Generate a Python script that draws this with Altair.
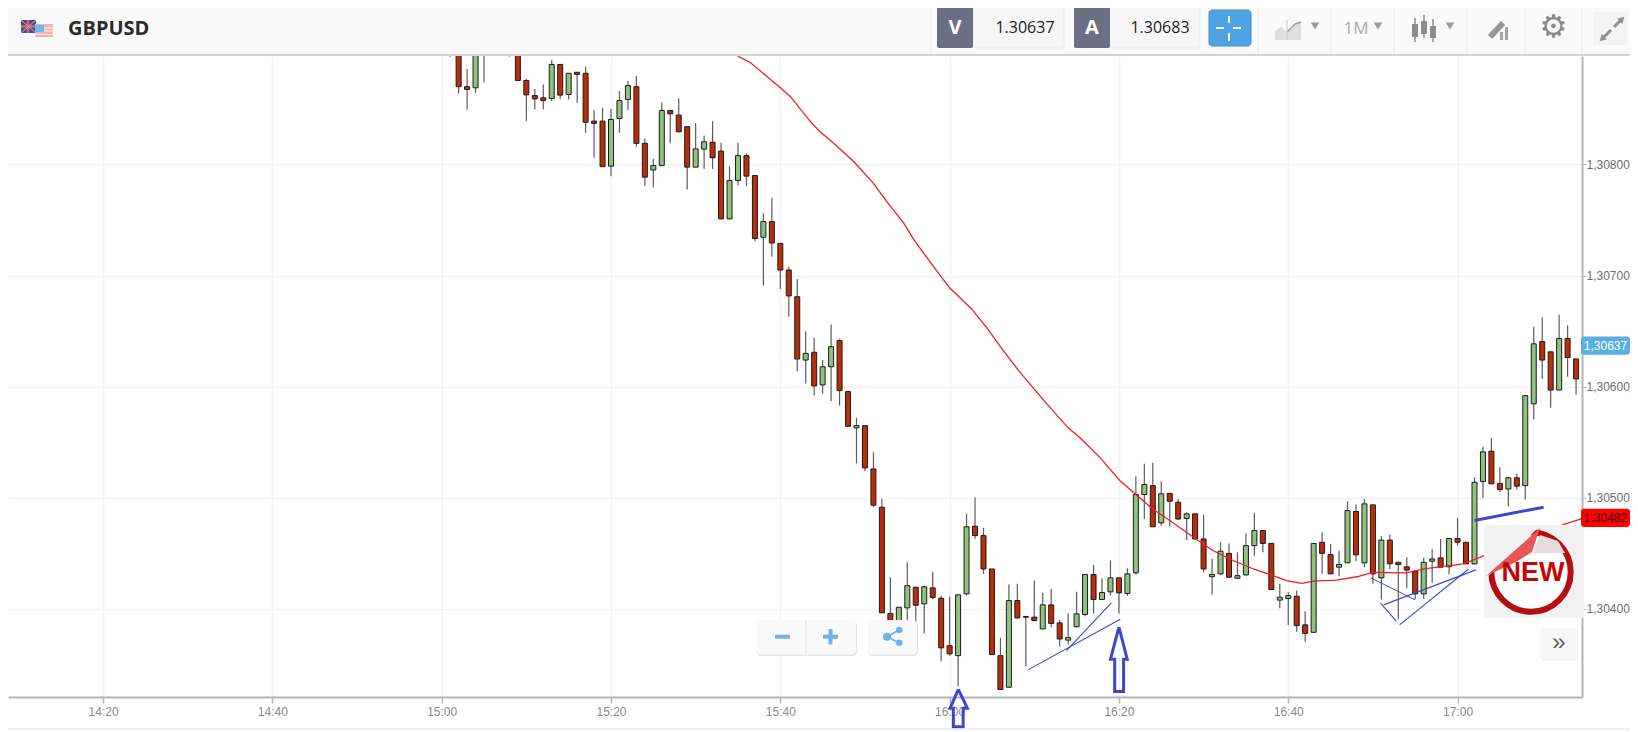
import json
import altair as alt
import pandas as pd

# ---- chart values, in points of 0.00001 ----
MINUTE = [1,2,3,4,5,8,9,10,11,12,13,14,15,16,17,18,19,20,21,22,23,24,25,26,27,28,29,30,31,32,33,34,35,36,37,38,39,40,41,42,43,44,45,46,47,48,49,50,51,52,53,54,55,56,57,58,59,60,61,62,63,64,65,66,67,68,69,70,71,72,73,74,75,76,77,78,79,80,81,82,83,84,85,86,87,88,89,90,91,92,93,94,95,96,97,98,99,100,101,102,103,104,105,106,107,108,109,110,111,112,113,114,115,116,117,118,119,120,121,122,123,124,125,126,127,128,129,130,131,132,133,134]
OPEN = [130912,130915,130870,130869,130900,130910,130908,130875.6,130862,130860,130859.4,130890,130863,130883,130882,130839,130839,130798.5,130841.4,130858.5,130870,130819,130795,130799,130848.6,130844.4,130834,130797.6,130813.8,130820,130812,130751,130785.6,130808,130790,130734.5,130748.6,130729,130705,130681,130624,130631,130601.6,130618,130641.5,130595.6,130563,130565,130526,130491.6,130396,130387,130401,130419.6,130404.6,130419,130409.7,130367,130358,130413.6,130474.5,130466,130436,130358,130329.6,130407.6,130393.2,130392.6,130382,130403.7,130387.5,130372,130384,130395,130431,130408.5,130415.4,130428,130414,130432.5,130503,130511,130477.5,130504,130496,130481.4,130485.6,130463,130429,130431.6,130450,130427.7,130430.7,130457,130470.6,130459,130408,130409.4,130411.5,130385.7,130379,130460,130449,130437.6,130441.5,130487.7,130441.5,130493.7,130428,130462,130442,130438,130434,130413.6,130443,130446,130438,130463.4,130460,130440.6,130514.7,130542,130513,130508,130518,130511,130584.6,130640.7,130631.4,130597,130643.4,130625]
HIGH = [130915,130920,130886,130912,130910,130913,130910,130877,130868,130872,130894,130890,130882,130883,130888,130849,130851,130850,130866,130875,130879.5,130823.4,130805,130856,130848.6,130859.4,130834,130837,130826,130839,130819.5,130798.5,130819.5,130810,130790,130756,130770,130729,130708,130697,130650,130644,130624,130656,130643,130595.6,130572,130565,130541,130499,130428.6,130401.6,130442,130420,130421,130433.4,130412,130411,130413,130485.6,130500.6,130473,130436,130374,130422,130422.6,130394,130425.6,130414.5,130418,130390,130396,130415.4,130431,130439.7,130427.4,130443.6,130428,130436.7,130519.5,130530.6,130531.5,130514.7,130504,130499,130487,130485.6,130485,130445,130460,130459,130451,130468,130486.5,130470.6,130459,130422.6,130415,130416.6,130398,130459,130469,130458.6,130452.6,130497,130494,130499,130493.7,130465.5,130467,130442,130446.6,130434,130446,130454,130463,130463.4,130482,130460,130518.6,130546,130554,130527.6,130519,130521.6,130592,130654,130662.6,130631.4,130664.7,130655.4,130625]
LOW = [130897,130864,130849.5,130864.5,130874,130897,130875.6,130839,130849.5,130849.5,130857,130859,130858.5,130855.5,130828.5,130806,130798,130789.5,130828.5,130849,130816,130780.5,130779.6,130799,130819,130829,130777.5,130797.6,130796,130796,130751,130751,130781,130780.5,130731,130691,130717,130688,130663,130614,130603,130592,130594,130587,130583,130564.4,130531,130524,130491.6,130396.5,130387,130378,130387.5,130378,130378,130409,130353,130358,130330.5,130412,130463,130431.6,130359,130327.5,130329.6,130391,130348.5,130389,130382,130383.6,130366,130368,130384,130393.5,130396,130408,130412,130396,130412,130431,130481,130474,130475,130474,130480,130462,130462,130433,130413,130431,130428,130427,130430,130448,130451,130417.5,130400.6,130385.6,130379.6,130370.6,130379,130431.6,130431.6,130429.5,130441.5,130443,130437.6,130422.6,130408.5,130436,130390.5,130418.7,130409,130409,130423.5,130437.6,130431,130457,130440.6,130440.6,130499.7,130512.6,130505,130492.5,130507.5,130498.5,130570.5,130607,130581,130597,130609,130593]
CLOSE = [130905,130870,130867.5,130908,130905,130904,130875.6,130862.7,130859,130857.6,130890,130862.4,130882,130881,130838,130837,130798,130840.5,130857.6,130871,130819,130788.6,130799,130848.6,130845.6,130829.4,130797.6,130814,130820.4,130806,130751,130785.6,130808,130789.5,130733.4,130748.6,130729.4,130705,130681.7,130625,130630,130600.7,130618,130636,130596.5,130564.4,130565,130527,130493.4,130396.5,130387,130401.6,130421,130403.4,130420,130410.3,130365,130359.6,130412.7,130474,130466,130436,130359,130327.5,130407.6,130392,130392.6,130389.6,130403.7,130387,130373,130374.3,130395.6,130431,130408.5,130414.8,130428,130414.5,130431.6,130503,130512,130474,130503.6,130497,130481,130485.6,130463,130436,130431,130452,130428.6,130430,130457,130470.6,130459,130417.5,130410.6,130412,130385,130378,130459,130450,130431.6,130440,130488.6,130448.7,130494.6,130431.6,130462,130440.6,130440,130435,130413.6,130442,130445,130437.6,130463.4,130460,130440.6,130514,130541.4,130512.6,130507.5,130518,130510.5,130592,130638.6,130624,130597,130643.4,130626.3,130607]

MA_MINUTE = [35,36.5,40,41.2,43.5,44.7,46.3,48.7,51,52.6,54.6,55.8,58.1,60,62.6,64.4,66.3,68.1,71.2,74,75.4,77.8,80.1,81.9,84,86,88.8,91.1,93.5,95.9,98.2,99.8,101.6,103,105.7,108.1,110,114,116,120.7,123,126,130,132.5,134.6]
MA_PRICE = [130897.5,130891.5,130869,130861,130839,130829.4,130819,130802.4,130783,130766.4,130747,130732,130708,130689,130670,130653,130633,130615,130587,130563,130554,130536,130515.6,130503.6,130490,130479.6,130464.6,130452.6,130443.6,130436,130430,130425.6,130423,130425,130426,130429,130433,130432.5,130436,130440.6,130447.5,130455,130468,130476,130481]

TREND_LINES = [
    ([69.25, 80.16], [130345.2, 130390.8]),
    ([73.8, 79.1], [130362.6, 130405.5]),
    ([109.76, 115], [130428, 130408.2]),
    ([110.9, 112.76], [130405.2, 130389]),
    ([113.15, 121.3], [130385.7, 130436]),
    ([111.26, 122.17], [130403.7, 130435.2]),
]
THICK_LINE = ([122, 130.16], [130479.6, 130491.6])
ARROW_1 = ([61.03, 62.1, 61.6, 61.6, 60.44, 60.44, 60.05, 61.03],
           [130327.7, 130310.6, 130310.6, 130294, 130294, 130310.6, 130310.6, 130327.7])
ARROW_2 = ([80, 80.98, 80.55, 80.55, 79.5, 79.5, 79, 80],
           [130383.6, 130354.8, 130354.8, 130325.7, 130325.7, 130354.8, 130354.8, 130383.6])

X_TICKS = [-40, -20, 0, 20, 40, 60, 80, 100, 120]
X_LABELS = ["14:20", "14:40", "15:00", "15:20", "15:40", "16:00", "16:20", "16:40", "17:00"]
Y_TICKS = [130400, 130500, 130600, 130700, 130800]
BID, ASK, MA_LAST = "1.30637", "1.30683", 130482
BID_POINTS = 130637

SYMBOL = "GBPUSD"
PLOT_L, PLOT_T, PLOT_R, PLOT_B = 8, 56, 1582, 697
X_DOMAIN = [-51.23, 134.7]
Y_DOMAIN = [130320.8, 130897.6]

RED, GREEN = "#bb2c08", "#8fc37c"
BLUE = "#3d47c9"
one = pd.DataFrame({"a": [0]})
X = lambda p: p - PLOT_L
Y = lambda p: p - PLOT_T


def box(x0, y0, x1, y1, fill, radius=0, stroke=None, opacity=1.0):
    kw = dict(fill=fill, opacity=opacity, cornerRadius=radius)
    if stroke:
        kw.update(stroke=stroke, strokeWidth=1)
    return alt.Chart(one).mark_rect(**kw).encode(
        x=alt.value(X(x0)), x2=alt.value(X(x1)), y=alt.value(Y(y0)), y2=alt.value(Y(y1)))


def seg(x0, y0, x1, y1, color, w=1.0):
    return alt.Chart(one).mark_rule(color=color, strokeWidth=w).encode(
        x=alt.value(X(x0)), x2=alt.value(X(x1)), y=alt.value(Y(y0)), y2=alt.value(Y(y1)))


def label(x, y, s, size, color, font="Open Sans", weight="normal", align="center"):
    return alt.Chart(one).mark_text(text=s, font=font, fontSize=size, fontWeight=weight, color=color,
                                    align=align, baseline="middle").encode(
        x=alt.value(X(x)), y=alt.value(Y(y)))


def poly(points, fill):
    path = "M " + " L ".join(f"{X(a):.1f} {Y(b):.1f}" for a, b in points) + " Z"
    return alt.Chart(one).mark_point(shape=path, size=4, filled=True, fill=fill, opacity=1, strokeWidth=0).encode(
        x=alt.value(0), y=alt.value(0))


def dot(x, y, size, fill, shape="circle", stroke=None, sw=0, angle=0):
    return alt.Chart(one).mark_point(shape=shape, size=size, filled=True, fill=fill, opacity=1,
                                     stroke=stroke if stroke else fill, strokeWidth=sw, angle=angle).encode(
        x=alt.value(X(x)), y=alt.value(Y(y)))


df = pd.DataFrame({"m": MINUTE, "o": OPEN, "h": HIGH, "l": LOW, "c": CLOSE})
df["dir"] = ["up" if c > o else "down" for o, c in zip(df.o, df.c)]

x_enc = alt.X("m:Q", scale=alt.Scale(domain=X_DOMAIN, nice=False, zero=False, padding=0), title=None,
              axis=alt.Axis(values=X_TICKS, labelExpr=json.dumps(X_LABELS) + "[(datum.value+40)/20]",
                            grid=True, gridColor="#f3f3f3", gridWidth=1.5, domainColor="#b5b5b5", domainWidth=2,
                            tickColor="#b5b5b5", tickSize=6, tickWidth=1.5, labelColor="#8a8a8a",
                            labelFont="Liberation Sans", labelFontSize=12, labelPadding=3, labelFlush=False,
                            labelOverlap=False))
y_enc = alt.Y("l:Q", scale=alt.Scale(domain=Y_DOMAIN, nice=False, zero=False), title=None,
              axis=alt.Axis(orient="right", values=Y_TICKS,
                            labelExpr="replace(format(datum.value/100000,'.5f'),'.',',')",
                            grid=True, gridColor="#f3f3f3", gridWidth=1.5, domainColor="#b5b5b5", domainWidth=2,
                            tickColor="#b5b5b5", tickSize=4, tickWidth=1, labelColor="#6e6e6e",
                            labelFont="Liberation Sans", labelFontSize=12, labelPadding=0, labelOverlap=False))

wicks = alt.Chart(df).mark_rule(color="#5c5c5c", strokeWidth=1.2, clip=True).encode(x=x_enc, y=y_enc, y2="h:Q")
bodies = alt.Chart(df).mark_bar(size=5, stroke="#1c1c1c", strokeWidth=1, clip=True).encode(
    x="m:Q", y="o:Q", y2="c:Q",
    fill=alt.Fill("dir:N", scale=alt.Scale(domain=["up", "down"], range=[GREEN, RED]), legend=None))


def polyline(xs, ys, color, w, clip=True):
    d = pd.DataFrame({"m": xs, "p": ys, "i": range(len(xs))})
    return alt.Chart(d).mark_line(color=color, strokeWidth=w, clip=clip, interpolate="linear").encode(
        x="m:Q", y="p:Q", order="i:Q")


ma = polyline(MA_MINUTE, MA_PRICE, "#f41c22", 1.3)
trends = [polyline(a, b, BLUE, 1.1) for a, b in TREND_LINES]
thick = polyline(THICK_LINE[0], THICK_LINE[1], BLUE, 3)
arrows = [polyline(ARROW_1[0], ARROW_1[1], BLUE, 3, clip=False), polyline(ARROW_2[0], ARROW_2[1], BLUE, 3, clip=False)]

HG = "#9a9a9a"
chrome = [
    box(0, 0, 1638, 55, "#fafafa"),
    seg(0, 55, 1638, 55, "#c6c6c6", 1.6),
    box(0, 729, 1638, 732, "#f8f8f8"),
    seg(0, 729, 1638, 729, "#e4e4e4", 1.2),
]
for sx in [931, 1258, 1331, 1394, 1467, 1525, 1582]:
    chrome.append(seg(sx, 0, sx, 54, "#e9e9e9", 1))
chrome += [
    box(21, 20, 36, 33, "#3f4f93"),
    seg(21, 26.5, 36, 26.5, "#e3626a", 2.5),
    seg(28, 20, 28, 33, "#e3626a", 2.5),
    seg(21, 20, 36, 33, "#e7a0a6", 1),
    seg(36, 20, 21, 33, "#e7a0a6", 1),
    box(35, 24, 53, 37, "#f1b3b3"),
    seg(35, 28, 53, 28, "#fbe9e9", 1.2),
    seg(35, 31, 53, 31, "#fbe9e9", 1.2),
    seg(35, 34.5, 53, 34.5, "#fbe9e9", 1.2),
    box(35, 25, 44, 32, "#72b6ef"),
    label(68, 28.5, SYMBOL, 20, "#2b2b2b", weight="bold", align="left"),
    box(973, 7, 1064, 48, "#f6f6f6", radius=3, stroke="#ececec"),
    box(937, 7, 973, 48, "#6c6f84", radius=2),
    label(955, 28, "V", 20, "#ffffff", weight="bold"),
    label(1025, 28, BID, 16, "#1d1d1d"),
    box(1109, 7, 1200, 48, "#f6f6f6", radius=3, stroke="#ececec"),
    box(1074, 7, 1110, 48, "#6c6f84", radius=2),
    label(1092, 28, "A", 20, "#ffffff", weight="bold"),
    label(1160, 28, ASK, 16, "#1d1d1d"),
    box(1209, 10, 1251, 46, "#4fa3e2", radius=3, stroke="#3f8fcc"),
    seg(1216, 28, 1224, 28, "#ffffff", 2), seg(1233, 28, 1241, 28, "#ffffff", 2),
    seg(1229, 16, 1229, 23, "#ffffff", 2), seg(1229, 33, 1229, 41, "#ffffff", 2),
    poly([(1275, 40), (1275, 31), (1281, 27), (1287, 32), (1295, 24), (1301, 22), (1301, 40)], "#dedede"),
    seg(1287, 32, 1295, 24, HG, 1.5), seg(1295, 24, 1301, 22, HG, 1.5), seg(1287, 20, 1287, 40, "#c8c8c8", 1),
    dot(1315, 26, 70, HG, "triangle-down"),
    label(1356, 29, "1M", 17, "#ababab"),
    dot(1378, 26, 70, HG, "triangle-down"),
    seg(1415, 18, 1415, 42, "#8d8d8d", 1.5), box(1412, 24, 1418, 37, "#8d8d8d"),
    seg(1424, 15, 1424, 38, "#8d8d8d", 1.5), box(1421, 21, 1427, 34, "#8d8d8d"),
    seg(1433, 19, 1433, 42, "#8d8d8d", 1.5), box(1430, 26, 1436, 38, "#8d8d8d"),
    dot(1450, 26, 70, HG, "triangle-down"),
    seg(1490, 37, 1503, 23, "#989898", 6),
    box(1500, 32, 1503, 40, "#a6a6a6"), box(1505, 27, 1508, 40, "#a6a6a6"),
    label(1553.5, 28, "\u2699", 31, "#8a8a8a", font="DejaVu Sans"),
    box(1593, 12, 1627, 45, "#f3f3f3"),
    seg(1603, 38, 1611, 30, "#8f8f8f", 3), seg(1614, 27, 1621, 20, "#8f8f8f", 3),
    dot(1622, 19, 55, "#8f8f8f", "triangle-up", angle=45),
    dot(1602, 39, 55, "#8f8f8f", "triangle-up", angle=225),
]

overlay = [
    box(757, 621, 857, 656, "#e2e2e2", radius=4, opacity=0.9),
    box(757, 620, 856, 654.5, "#fbfbfb", radius=4, opacity=0.92),
    seg(806, 620, 806, 654, "#e6e6e6", 1.2),
    seg(775, 636.7, 790, 636.7, "#6fb4e2", 4),
    seg(823, 636.7, 838, 636.7, "#6fb4e2", 4),
    seg(830.5, 629, 830.5, 644.5, "#6fb4e2", 4),
    box(868, 621, 918, 656, "#e2e2e2", radius=4, opacity=0.9),
    box(868, 620, 917, 654.5, "#fbfbfb", radius=4, opacity=0.92),
    seg(887, 636.7, 899, 630, "#6fb4e2", 1.8),
    seg(887, 636.7, 899, 642.7, "#6fb4e2", 1.8),
    dot(887, 636.7, 65, "#6fb4e2"),
    dot(899.3, 630, 42, "#6fb4e2"),
    dot(899.3, 642.7, 42, "#6fb4e2"),
    box(1484, 525, 1584, 618, "#f2f2f2"),
    alt.Chart(one).mark_point(shape="circle", size=6300, filled=True, fill="#fdfdfd", stroke="#b50d10",
                              strokeWidth=6, opacity=1).encode(x=alt.value(X(1531)), y=alt.value(Y(572))),
    poly([(1484, 525), (1541, 525), (1486, 578), (1484, 578)], "#f2f2f2"),
    poly([(1486, 576), (1540, 528), (1532, 552), (1516, 562)], "#e8555a"),
    poly([(1540, 535), (1558, 541), (1565, 553), (1533, 553)], "#e2dcdc"),
    label(1533, 573, "NEW", 27, "#c40505", font="Liberation Sans", weight="bold"),
    box(1541, 629, 1577, 660, "#f7f7f7", radius=3, stroke="#eeeeee"),
    label(1559, 643, "\u00bb", 24, "#5e5e5e", font="Liberation Sans"),
]

tag_rows = pd.DataFrame({"p": [BID_POINTS, MA_LAST],
                         "t": ["1,30637", "1,30482"], "f": ["#5aafdf", "#ff0000"], "c": ["#ffffff", "#3a0000"]})
tag_rows["p0"] = tag_rows.p - 8.2
tag_rows["p1"] = tag_rows.p + 8.2
tags_bg = alt.Chart(tag_rows).mark_rect(cornerRadius=3).encode(
    x=alt.value(X(1581)), x2=alt.value(X(1630)), y="p0:Q", y2="p1:Q",
    fill=alt.Fill("f:N", scale=None))
tags_tx = alt.Chart(tag_rows).mark_text(font="Liberation Sans", fontSize=12, align="center", baseline="middle").encode(
    x=alt.value(X(1605.5)), y="p:Q", text="t:N", color=alt.Color("c:N", scale=None))

layers = [wicks, bodies, ma] + trends + [thick] + overlay + arrows + chrome + [tags_bg, tags_tx]
chart = alt.layer(*layers).properties(
    width=PLOT_R - PLOT_L, height=PLOT_B - PLOT_T,
    padding={"left": 0, "top": PLOT_T - 8, "right": 48, "bottom": 33},
    autosize=alt.AutoSizeParams(type="none"),
    background="#ffffff",
).configure_view(stroke=None)

chart.save("out.html", embed_options={"renderer": "svg", "actions": False})
